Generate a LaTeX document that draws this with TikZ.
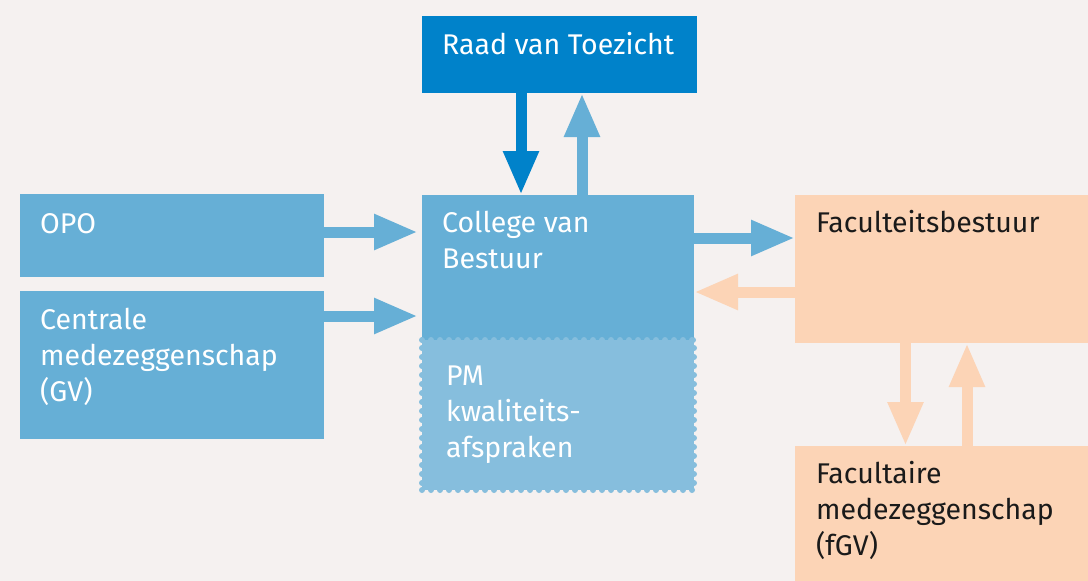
\documentclass[tikz,border=0pt]{standalone}
\usepackage{fontspec}
\setmainfont{Fira Sans}
\usetikzlibrary{positioning}
\usetikzlibrary{calc}
\usetikzlibrary{arrows.meta}
\definecolor{paper}{HTML}{F5F1F0}
\definecolor{darkblue}{HTML}{0082CA}
\definecolor{midblue}{HTML}{66AFD6}
\definecolor{lightblue}{HTML}{86BEDD}
\definecolor{peach}{HTML}{FCD4B6}
\definecolor{ink}{HTML}{1A1A1A}
\tikzset{
  box/.style       = { rectangle, inner sep=0pt, outer sep=0pt, anchor=north west },
  board/.style     = { box, fill=darkblue },
  central/.style   = { box, fill=midblue },
  faculty/.style   = { box, fill=peach },
  agreement/.style = { box, fill=lightblue, draw=lightblue, line width=6pt,
                       dash pattern=on 0pt off 9pt, line cap=round },
  lbl/.style       = { anchor=base west, inner sep=0pt, align=left,
                       font=\fontsize{28.5}{36}\selectfont },
}
\tikzset{
  flow/.style = { line width=11pt, -{Triangle[width=33pt,length=44pt]} }
}

\begin{document}
\begin{tikzpicture}[x=1pt,y=-1pt]
  \fill [paper] (0,0) rectangle (1088,581);

  \node (raad)    [board,  minimum width=275pt, minimum height=77pt]  at (422,16)  {};
  \node (opo)     [central,minimum width=304pt, minimum height=83pt]  at (20,194)  {};
  \node (central) [central,minimum width=304pt, minimum height=148pt] at (20,291)  {};
  \node (pm)      [agreement,minimum width=272pt, minimum height=150pt] at (422,340) {};
  \node (college) [central,minimum width=272pt, minimum height=145pt] at (422,195) {};
  \node (fac)     [faculty,minimum width=293pt, minimum height=148pt] at (795,195) {};
  \node (fgv)     [faculty,minimum width=293pt, minimum height=135pt] at (795,446) {};
  % redraw dotted top edge over the college box
  \draw [lightblue, line width=6pt, dash pattern=on 0pt off 9pt, line cap=round]
        (pm.north west) -- (pm.north east);

  % base of a multi-line label = its last line
  \node (raadtxt)    [lbl,text=white] at ([shift={(20,38)}]raad.north west)     {Raad van Toezicht};
  \node (opotxt)     [lbl,text=white] at ([shift={(20,39)}]opo.north west)      {OPO};
  \node (centraltxt) [lbl,text=white] at ([shift={(20,110)}]central.north west) {Centrale\\medezeggenschap\\(GV)};
  \node (collegetxt) [lbl,text=white] at ([shift={(20,73)}]college.north west)  {College van\\Bestuur};
  \node (pmtxt)      [lbl,text=white] at ([shift={(24,117)}]pm.north west)      {PM\\kwaliteits-\\afspraken};
  \node (factxt)     [lbl,text=ink]   at ([shift={(21,37)}]fac.north west)      {Faculteitsbestuur};
  \node (fgvtxt)     [lbl,text=ink]   at ([shift={(21,109)}]fgv.north west)     {Facultaire\\medezeggenschap\\(fGV)};

  \draw [flow,darkblue] ([xshift=-38.5pt]raad.south) -- ([xshift=-38.5pt]raad.south |- college.north);
  \draw [flow,midblue]  ([xshift=22.5pt]raad.south |- college.north) -- ([xshift=22.5pt]raad.south);

  \draw [flow,midblue] ([yshift=-38pt]opo.north east)
        -- ([yshift=-38pt,xshift=-4pt]opo.north east -| college.west);
  \draw [flow,midblue] ([yshift=-25pt]central.north east)
        -- ([yshift=-25pt,xshift=-4pt]central.north east -| college.west);

  \draw [flow,midblue] ([yshift=-43pt]college.north east) -- ([yshift=-43pt]college.north east -| fac.west);
  \draw [flow,peach]   ([yshift=-97pt]fac.north west) -- ([yshift=-97pt]fac.north west -| college.east);

  \draw [flow,peach] ([xshift=110.5pt]fac.south west) -- ([xshift=110.5pt]fac.south west |- fgv.north);
  \draw [flow,peach] ([xshift=172pt]fac.south west |- fgv.north) -- ([xshift=172pt]fac.south west);
\end{tikzpicture}
\end{document}
